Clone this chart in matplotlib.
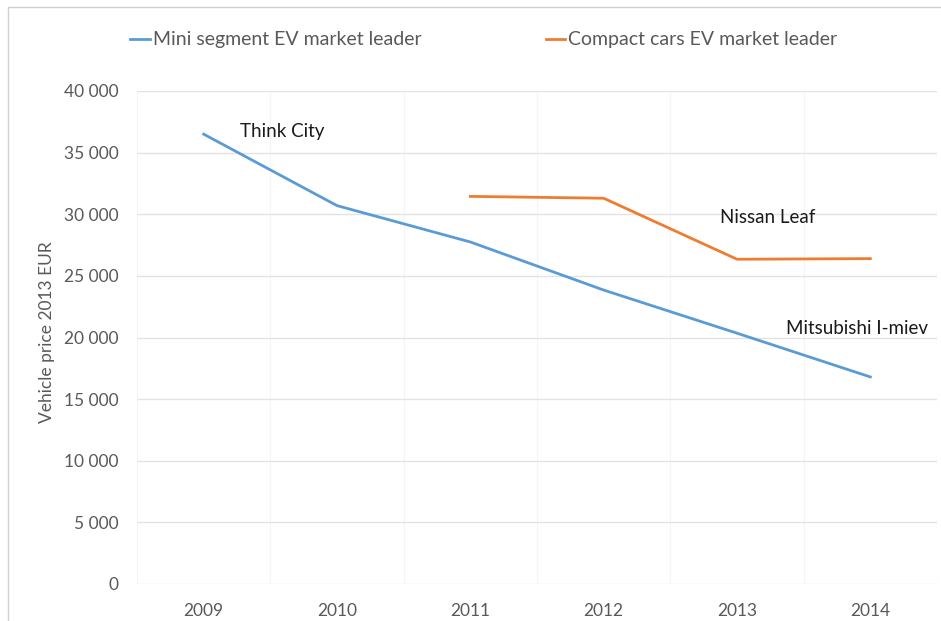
import matplotlib
matplotlib.use("Agg")
import matplotlib.pyplot as plt
from matplotlib.patches import Rectangle
from matplotlib.ticker import FuncFormatter, MultipleLocator
import numpy as np

# Data
years = [2009, 2010, 2011, 2012, 2013, 2014]
mini_ev = [36500, 30700, 27750, 23850, 20350, 16800]
compact_ev = [np.nan, np.nan, 31450, 31300, 26350, 26400]

labels = ["Think City", "Nissan Leaf", "Mitsubishi I-miev"]
label_pos = [(2009.27, 36700), (2012.87, 29700), (2013.37, 20750)]

BLUE = "#5b9bd5"
ORANGE = "#ed7d31"
GRID = "#e3e3e3"
TXT = "#595959"

plt.rcParams['font.family'] = ['Lato', 'DejaVu Sans']

fig = plt.figure(figsize=(9.41, 6.21), dpi=100)
ax = fig.add_axes([137/941, 1 - 584/621, 800/941, 493/621])

ax.plot(years, mini_ev, color=BLUE, lw=2, label="Mini segment EV market leader")
ax.plot(years, compact_ev, color=ORANGE, lw=2, label="Compact cars EV market leader")

ax.set_xlim(2008.5, 2014.5)
ax.set_ylim(0, 40000)
ax.yaxis.set_major_locator(MultipleLocator(5000))
ax.yaxis.set_major_formatter(FuncFormatter(lambda v, p: f"{int(v):,}".replace(",", " ")))
ax.set_xticks(years)
ax.xaxis.set_minor_locator(MultipleLocator(0.5))

ax.grid(axis='y', which='major', color=GRID, lw=1)
ax.grid(axis='x', which='minor', color="#f5f5f5", lw=0.8)
ax.set_axisbelow(True)
for s in ax.spines.values():
    s.set_visible(False)
ax.tick_params(which='both', length=0)
ax.tick_params(axis='y', pad=13, labelsize=12.5, labelcolor=TXT)
ax.tick_params(axis='x', pad=14, labelsize=12.5, labelcolor=TXT)

ax.set_ylabel("Vehicle price 2013 EUR", fontsize=12.5, color=TXT)
ax.yaxis.set_label_coords(-0.103, 0.51)

for txt, (x, y) in zip(labels, label_pos):
    ax.text(x, y, txt, fontsize=13.5, color="#1a1a1a", ha='left', va='center')

leg = fig.legend(loc='center', bbox_to_anchor=(0.514, 1 - 40/621), ncol=2, frameon=False,
                 fontsize=14, handlelength=1.0, handletextpad=0.15, columnspacing=6.4)
for t in leg.get_texts():
    t.set_color(TXT)

# outer chart frame (cropped on right and bottom)
fig.patches.append(Rectangle((8/941, -0.1), 1.2, 1 - 7/621 + 0.1, transform=fig.transFigure,
                             fill=False, edgecolor="#d0d0d0", lw=1))

fig.savefig("out.png", dpi=100)
